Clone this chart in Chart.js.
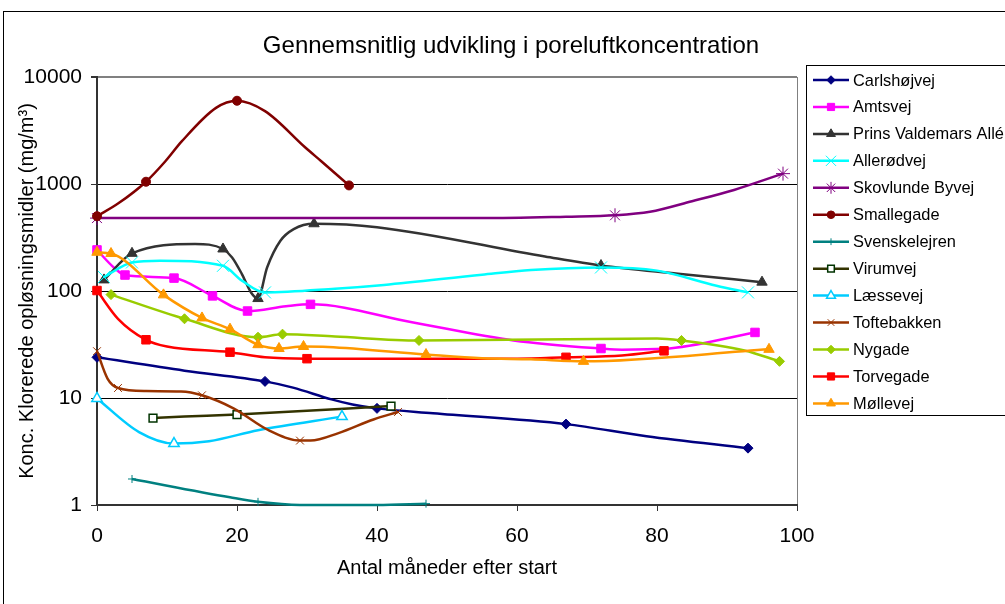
<!DOCTYPE html>
<html>
<head>
<meta charset="utf-8">
<script src="https://cdn.jsdelivr.net/npm/chart.js@4.4.1/dist/chart.umd.min.js"></script>
<style>
  html, body { margin: 0; padding: 0; background: #fff; overflow: hidden; }
  #wrap { position: relative; width: 1005px; height: 604px; }
</style>
</head>
<body>
<div id="wrap"><canvas id="chart" width="1005" height="604"></canvas></div>
<script>
// Axis
const xTicks = [0, 20, 40, 60, 80, 100];
const yTicks = [1, 10, 100, 1000, 10000];

// Series names in legend order
const names = ['Carlshøjvej', 'Amtsvej', 'Prins Valdemars Allé', 'Allerødvej', 'Skovlunde Byvej',
  'Smallegade', 'Svenskelejren', 'Virumvej', 'Læssevej', 'Toftebakken', 'Nygade', 'Torvegade', 'Møllevej'];

// Months, values (mg/m3) and months carrying a marker, per site
const carlsMonths = [0, 12.5, 24, 28, 33.5, 36.5, 40, 48, 67, 78.5, 93];
const carlsValues = [24, 18, 14.3, 12.5, 9.7, 8.7, 8, 7.2, 5.7, 4.4, 3.4];
const carlsMarks = [0, 24, 40, 67, 93];

const amtsMonths = [0, 2.4, 4, 11, 16.5, 21.5, 27, 30.5, 45, 59.5, 72, 75, 81, 94];
const amtsValues = [242, 166, 141, 132, 90, 65, 72, 75, 51, 34.5, 29, 28.3, 28.8, 41];
const amtsMarks = [0, 4, 11, 16.5, 21.5, 30.5, 72, 94];

const prinsMonths = [1, 5, 14, 18, 19.3, 20.7, 22, 23, 24.3, 26.2, 28.1, 31, 40, 64, 72, 83, 95];
const prinsValues = [127, 225, 275, 247, 206, 144, 97, 85, 166, 295, 379, 425, 395, 210, 173, 145, 121];
const prinsMarks = [1, 5, 18, 23, 31, 72, 95];

const alleMonths = [1, 5, 9, 18, 20.7, 24, 34, 41, 55, 62, 72, 80, 88.5, 93];
const alleValues = [135, 185, 192, 172, 125, 97, 105, 114, 142, 157, 166, 155, 112, 97];
const alleMarks = [1, 5, 18, 24, 72, 93];

const skovMonths = [0, 55, 67, 74, 79, 85, 91, 98];
const skovValues = [480, 480, 495, 510, 550, 690, 880, 1250];
const skovMarks = [0, 74, 98];

const smallMonths = [0, 3, 7, 9.8, 12.1, 17, 20, 24, 29.8, 32, 36];
const smallValues = [500, 656, 1050, 1640, 2500, 5150, 6000, 4800, 2180, 1640, 970];
const smallMarks = [0, 7, 20, 36];

const svenMonths = [5, 19, 23, 29, 40, 47];
const svenValues = [1.75, 1.18, 1.07, 1.0, 1.0, 1.03];
const svenMarks = [5, 23, 47];

const viruMonths = [8, 12.5, 20, 42];
const viruValues = [6.5, 6.7, 7.0, 8.4];
const viruMarks = [8, 20, 42];

const laesMonths = [0, 6, 11, 16, 23, 35];
const laesValues = [9.9, 4.8, 3.75, 3.95, 5.0, 6.7];
const laesMarks = [0, 11, 35];

const toftMonths = [0, 1.5, 3, 7, 12, 15, 19.5, 24.5, 29, 30.5, 34.5, 39.5, 43];
const toftValues = [27.4, 15.2, 12.4, 11.6, 11.5, 10.6, 8.0, 5.0, 4.0, 4.0, 4.7, 6.3, 7.4];
const toftMarks = [0, 3, 15, 29, 43];

const nygMonths = [2, 12.5, 23, 26.5, 34, 46, 80, 83.5, 92.5, 97.5];
const nygValues = [92.5, 55, 37, 39.5, 37.5, 34.5, 36, 34.5, 27.8, 22];
const nygMarks = [2, 12.5, 23, 26.5, 46, 83.5, 97.5];

const torvMonths = [0, 3, 7, 10, 19, 24, 30, 60, 67, 75, 81];
const torvValues = [101, 55, 35, 30.3, 26.8, 24, 23.3, 23.3, 24, 25, 27.6];
const torvMarks = [0, 7, 19, 30, 67, 81];

const moelMonths = [0, 2, 9.5, 15, 19, 23, 26, 29.5, 33, 47, 55, 62, 69.5, 96];
const moelValues = [230, 224, 92, 56, 44, 31.5, 29, 30.3, 30, 25.5, 23.5, 23, 22, 28.5];
const moelMarks = [0, 2, 9.5, 15, 19, 23, 26, 29.5, 47, 69.5, 96];

const FONT = "'Liberation Sans', Arial, sans-serif";

// line colour, marker style, radius, marker fill, marker border
const styles = [
  { color: '#000080', point: 'rectRot', r: 5, fill: '#000080', edge: '#000080' },
  { color: '#FF00FF', point: 'rect', r: 6, fill: '#FF00FF', edge: '#FF00FF' },
  { color: '#333333', point: 'triangle', r: 6, fill: '#333333', edge: '#333333' },
  { color: '#00FFFF', point: 'crossRot', r: 8.5, fill: '#00FFFF', edge: '#00FFFF' },
  { color: '#800080', point: 'star', r: 7, fill: '#800080', edge: '#800080' },
  { color: '#800000', point: 'circle', r: 4.5, fill: '#800000', edge: '#800000' },
  { color: '#008080', point: 'cross', r: 4, fill: '#008080', edge: '#008080' },
  { color: '#333300', point: 'rect', r: 5.5, fill: '#ffffff', edge: '#003300' },
  { color: '#00CCFF', point: 'triangle', r: 6, fill: '#ffffff', edge: '#00CCFF' },
  { color: '#993300', point: 'crossRot', r: 5.5, fill: '#993300', edge: '#993300' },
  { color: '#99CC00', point: 'rectRot', r: 5, fill: '#99CC00', edge: '#99CC00' },
  { color: '#FF0000', point: 'rect', r: 6, fill: '#FF0000', edge: '#FF0000' },
  { color: '#FF9900', point: 'triangle', r: 6, fill: '#FF9900', edge: '#FF9900' }
];

const seriesData = [
  [carlsMonths, carlsValues, carlsMarks],
  [amtsMonths, amtsValues, amtsMarks],
  [prinsMonths, prinsValues, prinsMarks],
  [alleMonths, alleValues, alleMarks],
  [skovMonths, skovValues, skovMarks],
  [smallMonths, smallValues, smallMarks],
  [svenMonths, svenValues, svenMarks],
  [viruMonths, viruValues, viruMarks],
  [laesMonths, laesValues, laesMarks],
  [toftMonths, toftValues, toftMarks],
  [nygMonths, nygValues, nygMarks],
  [torvMonths, torvValues, torvMarks],
  [moelMonths, moelValues, moelMarks]
];

const datasets = seriesData.map(([months, values, marks], i) => {
  const s = styles[i];
  return {
    label: names[i],
    data: months.map((m, j) => ({ x: m, y: values[j] })),
    borderColor: s.color,
    borderWidth: 2.5,
    cubicInterpolationMode: 'monotone',
    pointStyle: s.point,
    pointRadius: ctx => (ctx.raw && marks.includes(ctx.raw.x)) ? s.r : 0,
    pointBackgroundColor: s.fill,
    pointBorderColor: s.edge,
    pointBorderWidth: s.fill === '#ffffff' ? 1.5 : 1,
    order: names.length - i,
    clip: false,
    fill: false
  };
});

// Outer frame, title and legend box
const decorations = {
  id: 'decorations',
  beforeDraw(chart) {
    const ctx = chart.ctx;
    ctx.save();
    ctx.fillStyle = '#fff';
    ctx.fillRect(0, 0, chart.width, chart.height);
    ctx.strokeStyle = '#000';
    ctx.lineWidth = 1;
    ctx.strokeRect(3.5, 11.5, 1100, 700);
    ctx.restore();
  },
  afterDraw(chart) {
    const ctx = chart.ctx;
    ctx.save();
    ctx.fillStyle = '#000';
    ctx.font = '24px ' + FONT;
    ctx.textAlign = 'center';
    ctx.textBaseline = 'middle';
    ctx.fillText('Gennemsnitlig udvikling i poreluftkoncentration', 511, 46);

    ctx.strokeStyle = '#000';
    ctx.lineWidth = 1;
    ctx.strokeRect(806.5, 65.5, 260, 350);

    ctx.font = '16.4px ' + FONT;
    ctx.textAlign = 'left';
    names.forEach((name, i) => {
      const y = 80 + i * 26.95;
      const s = styles[i];
      ctx.strokeStyle = s.color;
      ctx.lineWidth = 2.5;
      ctx.beginPath();
      ctx.moveTo(813, y);
      ctx.lineTo(849, y);
      ctx.stroke();
      ctx.fillStyle = s.fill;
      ctx.strokeStyle = s.edge;
      ctx.lineWidth = s.fill === '#ffffff' ? 1.5 : 1;
      Chart.helpers.drawPoint(ctx, { pointStyle: s.point, radius: s.r * 0.85, borderWidth: ctx.lineWidth, rotation: 0 }, 831, y);
      ctx.fillStyle = '#000';
      ctx.fillText(name, 853, y + 1);
    });
    ctx.restore();
  }
};

new Chart(document.getElementById('chart'), {
  type: 'line',
  data: { datasets },
  plugins: [decorations],
  options: {
    responsive: false,
    animation: false,
    devicePixelRatio: 1,
    layout: { padding: { left: 0, top: 77, right: 208, bottom: 0 } },
    plugins: {
      legend: { display: false },
      title: { display: false },
      tooltip: { enabled: false }
    },
    scales: {
      x: {
        type: 'linear',
        min: 0,
        max: 100,
        afterFit: scale => { scale.height = 99; },
        afterBuildTicks: scale => { scale.ticks = xTicks.map(v => ({ value: v })); },
        ticks: { color: '#000', font: { family: FONT, size: 21 }, padding: 13, maxRotation: 0 },
        grid: {
          color: ctx => (ctx.tick && ctx.tick.value === 100) ? '#808080' : 'rgba(0,0,0,0)',
          tickColor: '#333',
          tickLength: 6,
          lineWidth: 1
        },
        border: { color: '#333', width: 2 },
        title: {
          display: true,
          text: 'Antal måneder efter start',
          color: '#000',
          font: { family: FONT, size: 20 },
          padding: { top: 24, bottom: 24 }
        }
      },
      y: {
        type: 'logarithmic',
        min: 1,
        max: 10000,
        afterFit: scale => { scale.width = 97; },
        afterBuildTicks: scale => { scale.ticks = yTicks.map(v => ({ value: v })); },
        ticks: {
          color: '#000',
          font: { family: FONT, size: 21 },
          padding: 9,
          callback: v => String(v)
        },
        grid: {
          color: ctx => (ctx.tick && ctx.tick.value === 10000) ? '#808080' : '#000',
          lineWidth: ctx => (ctx.tick && ctx.tick.value === 10000) ? 2 : 1,
          tickColor: '#333',
          tickLength: 6
        },
        border: { color: '#333', width: 2 },
        title: {
          display: true,
          text: 'Konc. Klorerede opløsningsmidler (mg/m³)',
          color: '#000',
          font: { family: FONT, size: 20 },
          padding: { top: 15, bottom: 15 }
        }
      }
    }
  }
});
</script>
</body>
</html>
